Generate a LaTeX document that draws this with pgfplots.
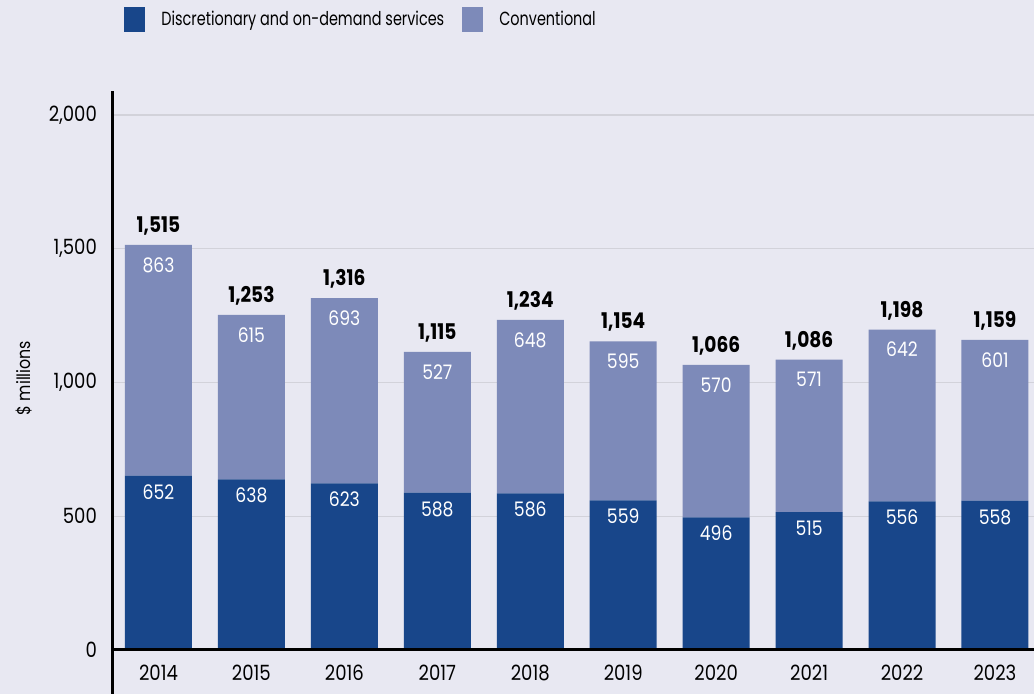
\documentclass[border=0pt]{standalone}
\usepackage{fontspec}
\setmainfont{Poppins}[FakeStretch=0.86]
\newfontfamily\legfont{Poppins}[FakeStretch=0.76]
\usepackage{pgfplots}
\usepackage{pgfplotstable}
\pgfplotsset{compat=1.18}
\definecolor{darkb}{HTML}{18468A}
\definecolor{lightb}{HTML}{7D8AB9}
\definecolor{bg}{HTML}{E8E8F2}
\definecolor{gridc}{HTML}{D2D2DA}
\pgfplotstableread{
x year a b t
0 2014 652 863 1515
1 2015 638 615 1253
2 2016 623 693 1316
3 2017 588 527 1115
4 2018 586 648 1234
5 2019 559 595 1154
6 2020 496 570 1066
7 2021 515 571 1086
8 2022 556 642 1198
9 2023 558 601 1159
}\data
\pgfplotsset{
  common/.style={
    at={(0,0)}, anchor=south west,
    width=461pt, height=279.5pt, scale only axis,
    xmin=-0.5, xmax=9.42, ymin=0, ymax=2090,
    clip=false,
    /pgf/number format/assume math mode=true,
    /pgf/number format/1000 sep={,},
  },
  lbl/.style={only marks, draw=none, mark=text, text mark={}, nodes near coords, point meta=explicit},
}
\begin{document}
\begin{tikzpicture}
\fill[bg] (-56pt,-22pt) rectangle (461pt,325pt);
\begin{axis}[
  common,
  ybar stacked, bar width=33.5pt,
  xtick={0,1,2,3,4,5,6,7,8,9},
  xticklabels={2014,2015,2016,2017,2018,2019,2020,2021,2022,2023},
  ytick={0,500,1000,1500,2000},
  ymajorgrids, grid style={gridc, line width=0.7pt},
  axis line style={draw=none}, major tick length=0pt,
  tick label style={font=\fontsize{10.5}{12}\selectfont},
  yticklabel style={xshift=-4pt},
  xticklabel style={yshift=-3.8pt},
  every axis y label/.style={at={(axis description cs:-0.0954,0.4866)}, rotate=90, anchor=center},
  ylabel={\$ millions},
  ylabel style={font=\fontsize{9.2}{11}\selectfont},
  legend style={at={(axis description cs:0.0065,1.127)}, anchor=west, draw=none, fill=none,
    font=\legfont\fontsize{9.5}{11}\selectfont,
    /tikz/every odd column/.append style={column sep=6pt},
    /tikz/every even column/.append style={column sep=7pt}},
  legend columns=-1,
  legend image code/.code={\fill[#1] (0pt,-6.25pt) rectangle (10.5pt,6.25pt);},
]
\addplot[fill=darkb, draw=none] table[x=x, y=a] {\data};
\addplot[fill=lightb, draw=none] table[x=x, y=b] {\data};
\legend{Discretionary and on-demand services, Conventional}
\end{axis}
\begin{axis}[common, hide axis]
\addplot[lbl, nodes near coords style={text=white, anchor=base, yshift=-11.7pt, font=\fontsize{10}{12}\selectfont}]
  table[x=x, y=a, meta=a] {\data};
\addplot[lbl, nodes near coords style={text=white, anchor=base, yshift=-13.7pt, font=\fontsize{10}{12}\selectfont}]
  table[x=x, y=t, meta=b] {\data};
\addplot[lbl, nodes near coords style={text=black, anchor=base, yshift=6.2pt, font=\fontsize{10.8}{12}\selectfont\bfseries}]
  table[x=x, y=t, meta=t] {\data};
\end{axis}
\draw[line width=1.5pt] (0pt,-22pt) -- (0pt,279.5pt);
\draw[line width=1.5pt] (0pt,0pt) -- (461pt,0pt);
\pgfresetboundingbox
\useasboundingbox (-56pt,-22pt) rectangle (461pt,325pt);
\end{tikzpicture}
\end{document}
